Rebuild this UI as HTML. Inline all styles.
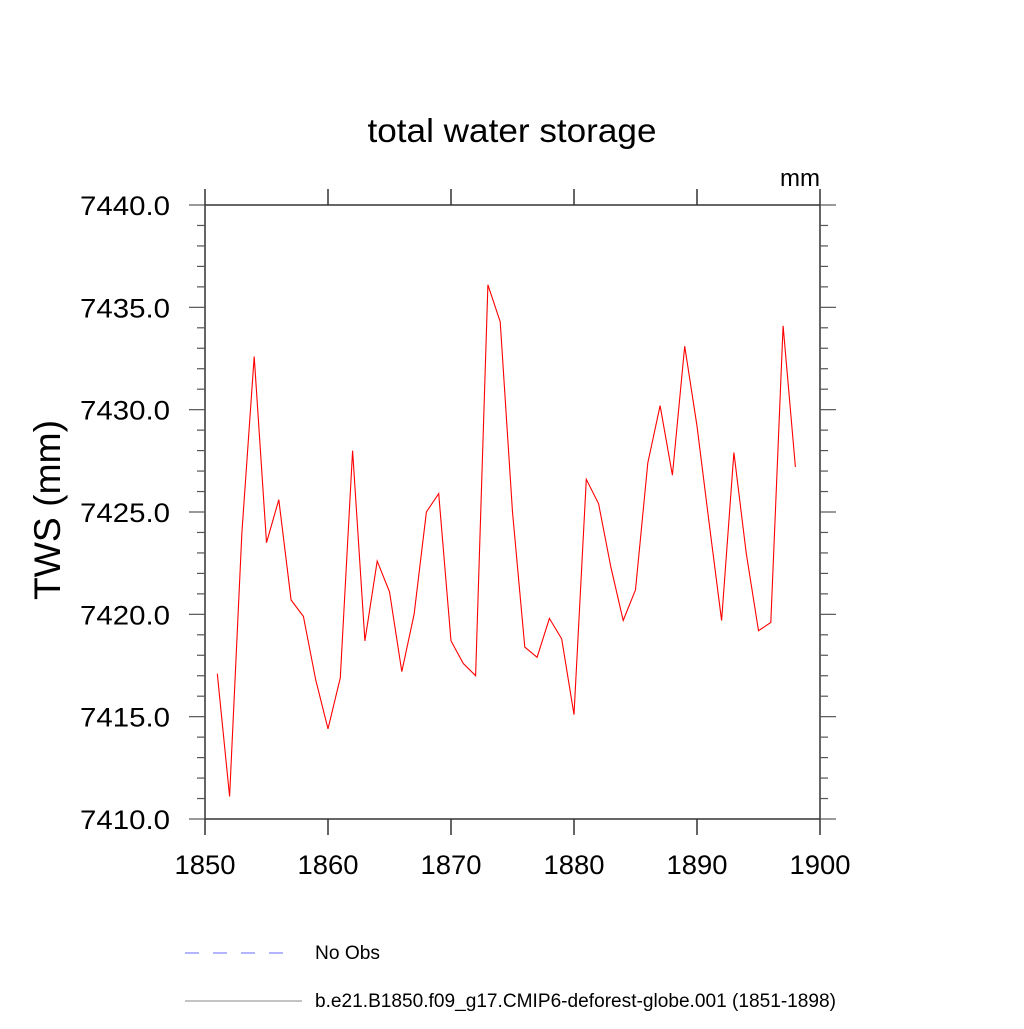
<!DOCTYPE html>
<html><head><meta charset="utf-8"><style>
body{margin:0;background:#fff;}
svg text{font-family:"Liberation Sans",sans-serif;fill:#000;}
</style></head><body>
<svg id="chart" width="1024" height="1024" viewBox="0 0 1024 1024" xmlns="http://www.w3.org/2000/svg">
<text x="512" y="142" font-size="33" text-anchor="middle" textLength="289" lengthAdjust="spacingAndGlyphs">total water storage</text>
<text x="820" y="186" font-size="24" text-anchor="end">mm</text>
<text transform="translate(60,510) rotate(-90)" font-size="37" text-anchor="middle" textLength="180" lengthAdjust="spacingAndGlyphs">TWS  (mm)</text>
<g id="axes"></g>
<g id="series"></g>
<g>
<line x1="185" y1="953" x2="292" y2="953" stroke="#6b6bff" stroke-width="1" stroke-dasharray="14,14"/>
<text x="315" y="959" font-size="19" textLength="65" lengthAdjust="spacingAndGlyphs">No Obs</text>
<line x1="185" y1="1001" x2="302" y2="1001" stroke="#888" stroke-width="1"/>
<text x="315" y="1007" font-size="19" textLength="521" lengthAdjust="spacingAndGlyphs">b.e21.B1850.f09_g17.CMIP6-deforest-globe.001 (1851-1898)</text>
</g>
</svg>
<script>
const years = [1851,1852,1853,1854,1855,1856,1857,1858,1859,1860,1861,1862,1863,1864,1865,1866,1867,1868,1869,1870,1871,1872,1873,1874,1875,1876,1877,1878,1879,1880,1881,1882,1883,1884,1885,1886,1887,1888,1889,1890,1891,1892,1893,1894,1895,1896,1897,1898];
const tws = [7417.1,7411.1,7424.0,7432.6,7423.5,7425.6,7420.7,7419.9,7416.8,7414.4,7416.9,7428.0,7418.7,7422.6,7421.1,7417.2,7420.0,7425.0,7425.9,7418.7,7417.6,7417.0,7436.1,7434.3,7425.0,7418.4,7417.9,7419.8,7418.8,7415.1,7426.6,7425.4,7422.3,7419.7,7421.2,7427.4,7430.2,7426.8,7433.1,7429.2,7424.4,7419.7,7427.9,7423.0,7419.2,7419.6,7434.1,7427.2];
const xTicks = [1850,1860,1870,1880,1890,1900];
const yTicks = [7410,7415,7420,7425,7430,7435,7440];
const yTickLabels = ["7410.0","7415.0","7420.0","7425.0","7430.0","7435.0","7440.0"];

const L=205,R=820,T=205,B=819;
const xMin=1850,xMax=1900,yMin=7410,yMax=7440;
function sx(v){return L+(v-xMin)/(xMax-xMin)*(R-L);}
function sy(v){return B-(v-yMin)/(yMax-yMin)*(B-T);}
const NS="http://www.w3.org/2000/svg";
function mk(tag,attrs,parent){const e=document.createElementNS(NS,tag);for(const k in attrs)e.setAttribute(k,attrs[k]);parent.appendChild(e);return e;}
const axes=document.getElementById('axes');
const frame=mk('rect',{x:L,y:T,width:R-L,height:B-T,fill:'none',stroke:'#333','stroke-width':1.5},axes);


xTicks.forEach(v=>{
  const x=sx(v);
  const t1=mk('line',{x1:x,y1:B,x2:x,y2:B+16,stroke:'#333','stroke-width':1.5},axes);
  
  
  const t2=mk('line',{x1:x,y1:T,x2:x,y2:T-16,stroke:'#333','stroke-width':1.5},axes);
  
  
  const lb=mk('text',{x:x,y:874,'font-size':27,'text-anchor':'middle',textLength:61,lengthAdjust:'spacingAndGlyphs'},axes);
  lb.textContent=v;
  
  
});
for(let v=yMin;v<=yMax;v+=1){
  const y=sy(v);const major=(v-yMin)%5===0;const len=major?16:8;
  const a=mk('line',{x1:L,y1:y,x2:L-len,y2:y,stroke:'#555','stroke-width':1.2},axes);
  
  
  const b=mk('line',{x1:R,y1:y,x2:R+len,y2:y,stroke:'#555','stroke-width':1.2},axes);
  
  
}
yTicks.forEach((v,i)=>{
  const lb=mk('text',{x:80,y:sy(v)+10,'font-size':27,textLength:90,lengthAdjust:'spacingAndGlyphs'},axes);
  lb.textContent=yTickLabels[i];
  
  
});
const pts=years.map((yr,i)=>sx(yr).toFixed(1)+','+sy(tws[i]).toFixed(1)).join(' ');
const line=mk('polyline',{points:pts,fill:'none',stroke:'#ff0000','stroke-width':1.1},document.getElementById('series'));


</script>
</body></html>
